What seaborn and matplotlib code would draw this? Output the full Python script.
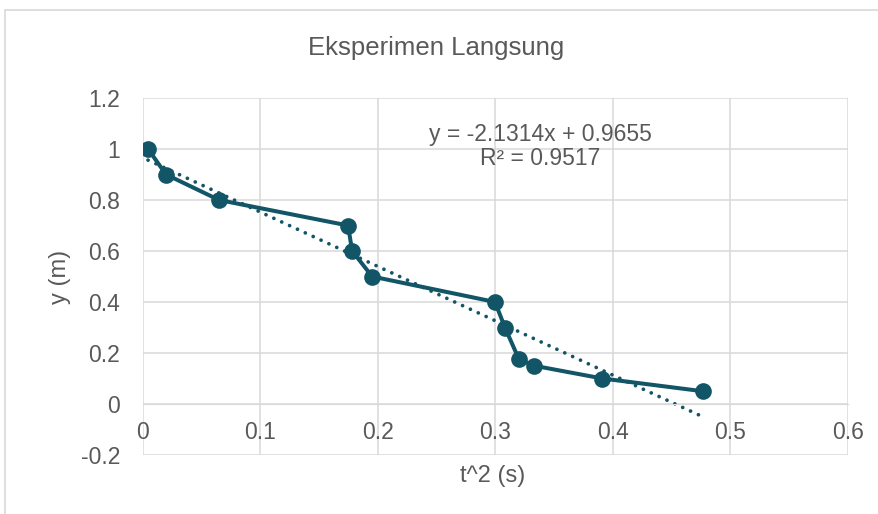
import matplotlib
matplotlib.use("Agg")
import matplotlib.pyplot as plt
import matplotlib.patches as patches
import numpy as np
import pandas as pd
import seaborn as sns

# data
t2 = [0.0043, 0.0196, 0.0647, 0.1745, 0.178, 0.195, 0.2996, 0.308, 0.32, 0.333, 0.391, 0.4766]
y_m = [1.0, 0.9, 0.8, 0.7, 0.6, 0.5, 0.4, 0.3, 0.175, 0.15, 0.1, 0.05]
slope = -2.1314
intercept = 0.9655
r2 = 0.9517
x_ticks = [0, 0.1, 0.2, 0.3, 0.4, 0.5, 0.6]
y_ticks = [-0.2, 0, 0.2, 0.4, 0.6, 0.8, 1, 1.2]

df = pd.DataFrame({"t2": t2, "y": y_m})

sns.set_style("white")
plt.rcParams["font.family"] = ["Liberation Sans", "DejaVu Sans"]

col = "#125566"
txt = "#595959"
grid = "#d9d9d9"

fig = plt.figure(figsize=(8.79, 5.14), dpi=100)
ax = fig.add_axes([143 / 879, 1 - 455 / 514, 705 / 879, 357 / 514])

# chart border
fig.patches.append(patches.Rectangle((5 / 879, -0.1), 1.1, 1 - 10 / 514 + 0.1,
                                     transform=fig.transFigure, fill=False,
                                     edgecolor=grid, linewidth=1.2))

for yt in y_ticks:
    ax.axhline(yt, color=grid, linewidth=1.1, zorder=0)
for xt in x_ticks:
    ax.axvline(xt, color=grid, linewidth=1.1, zorder=0)

# linear trendline
xs = np.array([min(t2), max(t2)])
ax.plot(xs, slope * xs + intercept, color=col, linewidth=2.7,
        linestyle=(0, (0.01, 2.3)), dash_capstyle="round", zorder=2)

sns.lineplot(data=df, x="t2", y="y", sort=False, color=col, linewidth=2.9,
             marker="o", markersize=12, markeredgewidth=0, ax=ax, zorder=3)

ax.set_xlim(0, 0.6)
ax.set_ylim(-0.2, 1.2)
ax.set_xticks(x_ticks)
ax.set_xticklabels([f"{v:g}" for v in x_ticks])
ax.set_yticks(y_ticks)
ax.set_yticklabels([f"{v:g}" for v in y_ticks])
ax.tick_params(axis="both", length=0, labelsize=16.5, colors=txt)
ax.tick_params(axis="x", pad=12.5)
ax.tick_params(axis="y", pad=16.5)

for s in ["top", "right", "left"]:
    ax.spines[s].set_visible(False)
ax.spines["bottom"].set_position(("data", 0))
ax.spines["bottom"].set_color(grid)

ax.set_xlabel("")
ax.set_ylabel("")
fig.text(493 / 879, 1 - 476 / 514, "t^2 (s)", ha="center", va="center", fontsize=17, color=txt)
fig.text(60 / 879, 1 - 277 / 514, "y (m)", ha="center", va="center", rotation=90, fontsize=17, color=txt)
fig.text(436 / 879, 1 - 48 / 514, "Eksperimen Langsung", ha="center", va="center", fontsize=18.5, color=txt)

ax.text(0.338, 1.01, f"y = {slope}x + {intercept}\nR² = {r2}", ha="center", va="center",
        fontsize=16.5, color=txt, linespacing=1.05)

fig.savefig("out.png", dpi=100)
